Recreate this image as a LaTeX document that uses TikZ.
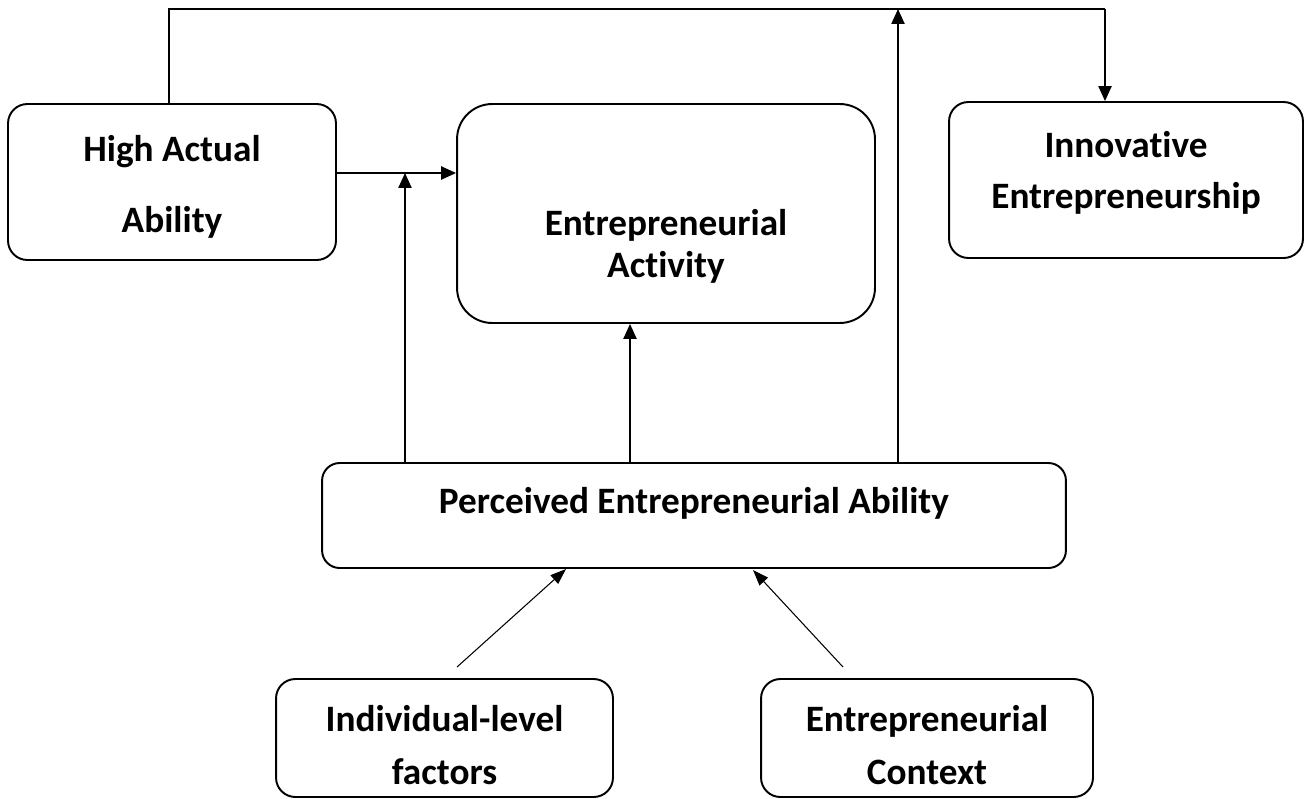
\documentclass[tikz,border=0pt]{standalone}
\usepackage{fontspec}
\setmainfont[Ligatures=NoCommon]{Carlito}
\usetikzlibrary{arrows.meta}

\begin{document}
\begin{tikzpicture}[
        x=0.02cm, y=-0.02cm,
        >={Triangle[length=8.5pt,width=7.5pt]},
        every node/.style={font=\bfseries\fontsize{21.2}{24}\selectfont, align=center},
        box/.style={draw, line width=1.1pt, rounded corners=#1},
        box/.default=11pt,
        link/.style={->, line width=0.9pt},
        thin link/.style={-{Triangle[length=9pt,width=6.5pt]}, line width=0.6pt},
    ]
        \useasboundingbox (0,0) rectangle (1310,798);

        % the boxes
        \node[box, minimum width=6.56cm, minimum height=3.12cm] (high) at (172,182) {};
        \node[box=20pt, minimum width=8.36cm, minimum height=4.38cm] (act) at (666,213.5) {};
        \node[box, minimum width=7.08cm, minimum height=3.12cm] (innov) at (1126,180) {};
        \node[box=10pt, minimum width=14.88cm, minimum height=2.10cm] (perc) at (694,515.5) {};
        \node[box, minimum width=6.74cm, minimum height=2.36cm] (indiv) at (444.5,738) {};
        \node[box, minimum width=6.64cm, minimum height=2.36cm] (ctx) at (927,738) {};

        % their texts
        \node (high-txt) at (172,187) {High Actual\\[0.58cm]Ability};
        \node (act-txt) at (666,246) {Entrepreneurial\\Activity};
        \node (innov-txt) at (1126,173) {Innovative\\[0.18cm]Entrepreneurship};
        \node (perc-txt) at (694,503) {Perceived Entrepreneurial Ability};
        \node (indiv-txt) at (444.5,745) {Individual-level\\[0.22cm]factors};
        \node (ctx-txt) at (927,745) {Entrepreneurial\\[0.22cm]Context};

        % corner points of the connectors
        \coordinate (top-left) at (169,9);
        \coordinate (top-right) at (1105,9);
        \coordinate (top-up) at (898,9);
        \coordinate (join) at (405,173);
        \coordinate (mid-up) at (630,0);

        \draw[link, -] (top-left |- high.north) -- (top-left) -- (top-right);
        \draw[link] (top-right) -- (top-right |- innov.north);
        \draw[link] (top-up |- perc.north) -- (top-up);
        \draw[link] (join -| high.east) -- (join -| act.west);
        \draw[link] (join |- perc.north) -- (join);
        \draw[link] (mid-up |- perc.north) -- (mid-up |- act.south);
        \draw[thin link] (457,667) -- (566,569);
        \draw[thin link] (843,667) -- (753,570);
    \end{tikzpicture}
\end{document}
